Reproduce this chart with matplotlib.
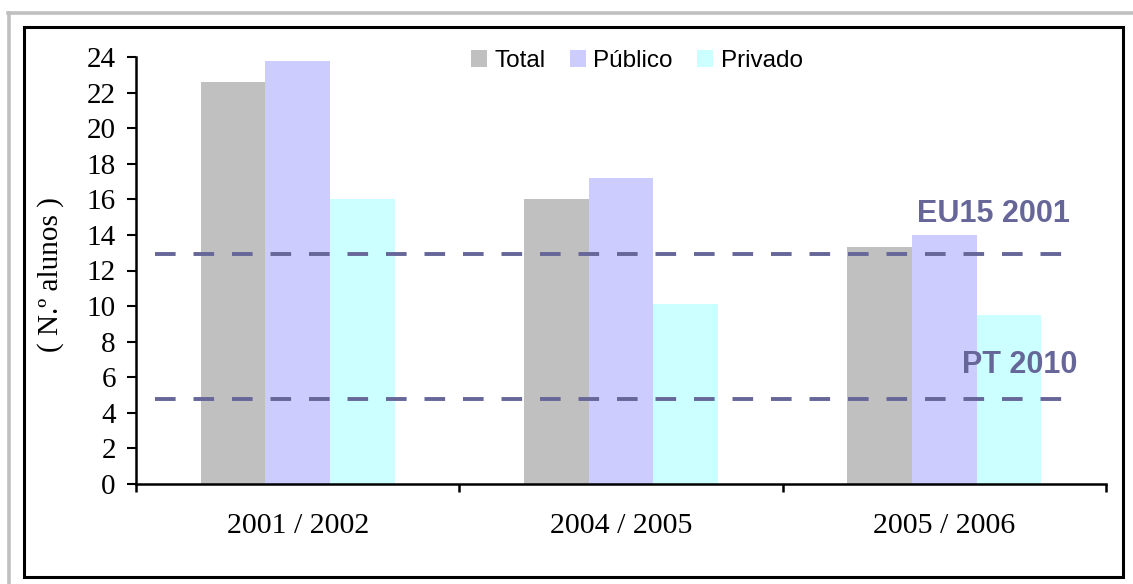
import matplotlib
matplotlib.use("Agg")
import matplotlib.pyplot as plt
from matplotlib.patches import Rectangle
from matplotlib.lines import Line2D
import numpy as np

# Data
anos = ["2001 / 2002", "2004 / 2005", "2005 / 2006"]
series_nomes = ["Total", "Público", "Privado"]
total = [22.6, 16.0, 13.3]
publico = [23.8, 17.2, 14.0]
privado = [16.0, 10.1, 9.5]
meta_eu15 = 12.9
meta_pt = 4.8
y_ticks = list(range(0, 25, 2))

cores = ["#C0C0C0", "#CCCCFF", "#CCFFFF"]
cor_meta = "#666699"

W, H, DPI = 1133, 584, 100
fig = plt.figure(figsize=(W / DPI, H / DPI), dpi=DPI)
fig.patch.set_facecolor("white")

# Outer decorative border (light grey top/left) and black frame
fig.add_artist(Line2D([8 / W, 1.0], [1 - 13 / H, 1 - 13 / H], color="#C0C0C0",
                      lw=2.6, transform=fig.transFigure))
fig.add_artist(Line2D([9 / W, 9 / W], [0.0, 1 - 13 / H], color="#C0C0C0",
                      lw=2.6, transform=fig.transFigure))
fig.add_artist(Rectangle((24 / W, 1 - 577 / H), (1123 - 24) / W, (577 - 27) / H,
                         fill=False, edgecolor="black", lw=2.2,
                         transform=fig.transFigure))

left, right, bottom, top = 136, 1106, 484, 57
ax = fig.add_axes([left / W, 1 - bottom / H, (right - left) / W, (bottom - top) / H])

x = np.arange(len(anos))
bw = 0.2
for i, (vals, nome) in enumerate(zip([total, publico, privado], series_nomes)):
    ax.bar(x + (i - 1) * bw, vals, width=bw, color=cores[i], label=nome,
           edgecolor="none", zorder=2)

# Reference levels
x0, x1 = -0.441, 2.383
for nivel in (meta_eu15, meta_pt):
    ax.plot([x0, x1], [nivel, nivel], color=cor_meta, lw=2.8,
            dashes=(5.3, 4.6), zorder=3, dash_capstyle="butt")
ax.text(2.152, 14.73, "EU15 2001", color=cor_meta, fontsize=22, fontweight="bold",
        family="Liberation Sans", ha="center", va="baseline", zorder=4)
ax.text(2.234, 6.24, "PT 2010", color=cor_meta, fontsize=22, fontweight="bold",
        family="Liberation Sans", ha="center", va="baseline", zorder=4)

ax.set_xlim(-0.5, 2.5)
ax.set_ylim(0, 24)
ax.set_yticks(y_ticks)
ax.set_yticklabels([str(v) for v in y_ticks], family="Liberation Serif", fontsize=21)
ax.tick_params(axis="y", direction="out", length=6.5, width=1.5, pad=8)

ax.set_xticks(np.arange(-0.5, 3, 1.0))
ax.set_xticklabels([])
ax.tick_params(axis="x", which="major", direction="out", length=6, width=1.8)
ax.set_xticks(x, minor=True)
ax.set_xticklabels(anos, minor=True, family="Liberation Serif", fontsize=21.5)
ax.tick_params(axis="x", which="minor", length=0, pad=21)

for s in ["top", "right"]:
    ax.spines[s].set_visible(False)
for s in ["left", "bottom"]:
    ax.spines[s].set_linewidth(1.8)

ax.set_ylabel("( N.º alunos )", family="Liberation Serif", fontsize=21)
ax.yaxis.set_label_coords((64 - left) / (right - left), (bottom - 275) / (bottom - top))

leg = ax.legend(loc="center", bbox_to_anchor=((637 - left) / (right - left),
                                                (bottom - 61) / (bottom - top)),
                ncol=3, frameon=False, handlelength=0.66, handleheight=0.66,
                handletextpad=0.3, columnspacing=1.0,
                prop={"family": "Liberation Sans", "size": 17.5})

fig.savefig("out.png", dpi=DPI)
